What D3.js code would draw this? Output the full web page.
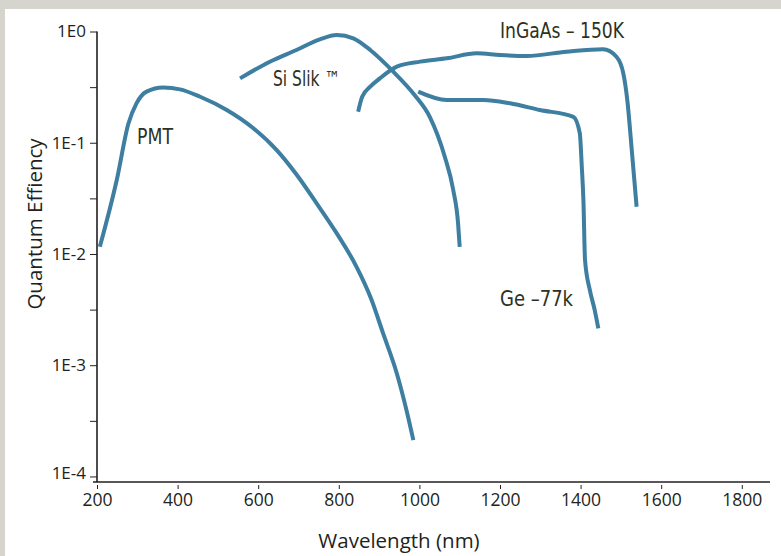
<!DOCTYPE html>
<html>
<head>
<meta charset="utf-8">
<script src="https://cdn.jsdelivr.net/npm/d3@7"></script>
<style>
  body { margin: 0; background: #d5d5ce; }
  svg { display: block; }
  .axis-title { font-family: "Open Sans", sans-serif; font-size: 20.5px; fill: #231f20; }
  .curve-label { font-family: "Liberation Sans Narrow", "DejaVu Sans Condensed", sans-serif; font-size: 21px; fill: #2d3121; }
</style>
</head>
<body>
<div id="chart"></div>
<script>
var svgWidth = 781;
var svgHeight = 556;

// Wavelength (nm) / quantum efficiency
var pmtWave = [207, 249, 278, 298, 323, 364, 406, 456, 522, 588, 646, 696, 745, 795, 844, 880, 910, 944, 968, 985];
var pmtQE = [0.0116, 0.0462, 0.149, 0.226, 0.288, 0.313, 0.302, 0.259, 0.197, 0.135, 0.0859, 0.0513, 0.0285, 0.0153, 0.00767, 0.00398, 0.00193, 0.000843, 0.000394, 0.000212];

var siWave = [555, 629, 695, 753, 795, 836, 878, 931, 990, 1026, 1063, 1084, 1096, 1100];
var siQE = [0.379, 0.535, 0.682, 0.851, 0.931, 0.869, 0.682, 0.451, 0.263, 0.170, 0.0748, 0.0376, 0.0188, 0.0116];

var ingaasWave = [848, 858, 878, 902, 944, 1002, 1068, 1142, 1200, 1266, 1365, 1456, 1489, 1506, 1516, 1527, 1539];
var ingaasQE = [0.190, 0.259, 0.319, 0.379, 0.483, 0.536, 0.574, 0.637, 0.615, 0.603, 0.658, 0.692, 0.593, 0.421, 0.240, 0.0859, 0.0266];

var geWave = [997, 1068, 1159, 1225, 1299, 1382, 1398, 1403, 1407, 1411, 1423, 1435, 1444];
var geQE = [0.288, 0.242, 0.242, 0.226, 0.197, 0.171, 0.122, 0.0608, 0.0305, 0.00881, 0.00473, 0.00313, 0.00214];

var xTicks = [200, 400, 600, 800, 1000, 1200, 1400, 1600, 1800];
var yTicks = [1e0, 1e-1, 1e-2, 1e-3, 1e-4];
var yTickLabels = ["1E0", "1E-1", "1E-2", "1E-3", "1E-4"];
var yMinorTicks = [0.316, 0.0316, 0.00316, 0.000316];

var labels = ["PMT", "Si Slik \u2122", "InGaAs \u2013 150K", "Ge \u201377k"];

var svg = d3.select("#chart")
  .append("svg")
  .attr("width", svgWidth)
  .attr("height", svgHeight);

// white panel inside the grey frame
svg.append("rect")
  .attr("x", 5)
  .attr("y", 9)
  .attr("width", svgWidth - 5)
  .attr("height", svgHeight - 9)
  .attr("fill", "#ffffff");

var x = d3.scaleLinear()
  .domain([200, 1870])
  .range([97, 770]);

var y = d3.scaleLog()
  .domain([Math.pow(10, -4.05), 1])
  .range([482, 31.5]);

// x axis
var xAxis = svg.append("g")
  .attr("transform", "translate(0, 482)")
  .call(d3.axisBottom(x).tickValues(xTicks).tickSize(7).tickPadding(5).tickFormat(d3.format("d")));
xAxis.select(".domain").attr("d", "M" + x(190) + ",0H" + x(1870)).attr("stroke", "#231f20").attr("stroke-width", 1.6);
xAxis.selectAll(".tick line").attr("stroke", "#231f20").attr("y1", 3);
xAxis.selectAll(".tick text")
  .attr("font-family", "Open Sans, sans-serif")
  .attr("font-size", "17.5px")
  .attr("fill", "#231f20");

// y axis
var yAxis = svg.append("g")
  .attr("transform", "translate(97, 0)")
  .call(d3.axisLeft(y).tickValues(yTicks).tickSize(7).tickPadding(4)
    .tickFormat(function(d, i) { return yTickLabels[i]; }));
yAxis.select(".domain").attr("d", "M0," + y(1) + "V482").attr("stroke", "#231f20").attr("stroke-width", 1.6);
yAxis.selectAll(".tick line").attr("stroke", "#231f20");
yAxis.selectAll(".tick text")
  .attr("font-family", "Open Sans, sans-serif")
  .attr("font-size", "17px")
  .attr("fill", "#231f20");
yAxis.selectAll(".tick text").filter(function(d) { return d === 1e-4; }).attr("dy", "0.1em");

var yMinor = svg.append("g")
  .attr("transform", "translate(97, 0)")
  .call(d3.axisLeft(y).tickValues(yMinorTicks).tickSize(7).tickFormat(""));
yMinor.select(".domain").remove();
yMinor.selectAll(".tick line").attr("stroke", "#231f20");

// axis titles
svg.append("text")
  .attr("class", "axis-title")
  .attr("x", 399)
  .attr("y", 548)
  .attr("text-anchor", "middle")
  .text("Wavelength (nm)");

svg.append("text")
  .attr("class", "axis-title")
  .attr("transform", "translate(42, 224) rotate(-90)")
  .attr("text-anchor", "middle")
  .text("Quantum Effiency");

// curves
var line = d3.line()
  .x(function(d) { return x(d[0]); })
  .y(function(d) { return y(d[1]); })
  .curve(d3.curveMonotoneX);

var series = [
  [pmtWave, pmtQE],
  [siWave, siQE],
  [ingaasWave, ingaasQE],
  [geWave, geQE]
];

series.forEach(function(s) {
  var pts = s[0].map(function(w, i) { return [w, s[1][i]]; });
  svg.append("path")
    .datum(pts)
    .attr("d", line)
    .attr("fill", "none")
    .attr("stroke", "#3d7ea1")
    .attr("stroke-width", 4);
});

// curve labels
var labelPos = [[137, 144, 36], [273, 86, 67], [500, 38, 124], [500, 306, 73]];
labels.forEach(function(t, i) {
  svg.append("text")
    .attr("class", "curve-label")
    .attr("x", labelPos[i][0])
    .attr("y", labelPos[i][1])
    .attr("textLength", labelPos[i][2])
    .attr("lengthAdjust", "spacingAndGlyphs")
    .text(t);
});
</script>
</body>
</html>
